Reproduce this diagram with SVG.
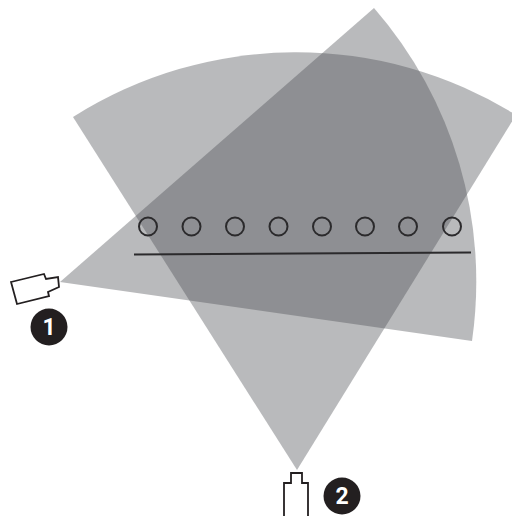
<svg xmlns="http://www.w3.org/2000/svg" width="512" height="516" viewBox="0 0 512 516">
<style>
.fov{fill:#4a4b50;fill-opacity:.386}
.cam{fill:#fff;stroke:#231f20;stroke-width:1.800}
.sub{fill:none;stroke:#2b2a2c;stroke-width:2}
.badge{fill:#231f20}
.num{fill:#fff;font-family:Roboto,sans-serif;font-weight:700;font-size:23px;text-anchor:middle}
</style>
<rect width="512" height="516" fill="#fff"/>
<g id="field-of-view">
<path class="fov" d="M60 282L374 8A416.5 416.5 0 0 1 472 341Z"/>
<path class="fov" d="M297 470L73 117A417 417 0 0 1 516 115Z"/>
</g>
<g id="subjects">
<circle class="sub" cx="148" cy="226.500" r="9"/>
<circle class="sub" cx="191.500" cy="226.500" r="9"/>
<circle class="sub" cx="235" cy="226.500" r="9"/>
<circle class="sub" cx="278.500" cy="226.500" r="9"/>
<circle class="sub" cx="322" cy="226.500" r="9"/>
<circle class="sub" cx="365" cy="226.500" r="9"/>
<circle class="sub" cx="408" cy="226.500" r="9"/>
<circle class="sub" cx="452" cy="226.500" r="9"/>
<path class="sub" d="M134 254.500L471 252.500"/>
</g>
<g id="camera-1">
<path class="cam" d="M11 282L44 274L46 279L58 277L59 287L48 292L49 296L17 304Z"/>
<circle class="badge" cx="49" cy="327" r="18.500"/>
<text class="num" x="49" y="335">1</text>
</g>
<g id="camera-2">
<path class="cam" d="M284 516V483H291V473H302V483H308V516"/>
<circle class="badge" cx="342" cy="496" r="18.500"/>
<text class="num" x="342" y="504">2</text>
</g>
</svg>
